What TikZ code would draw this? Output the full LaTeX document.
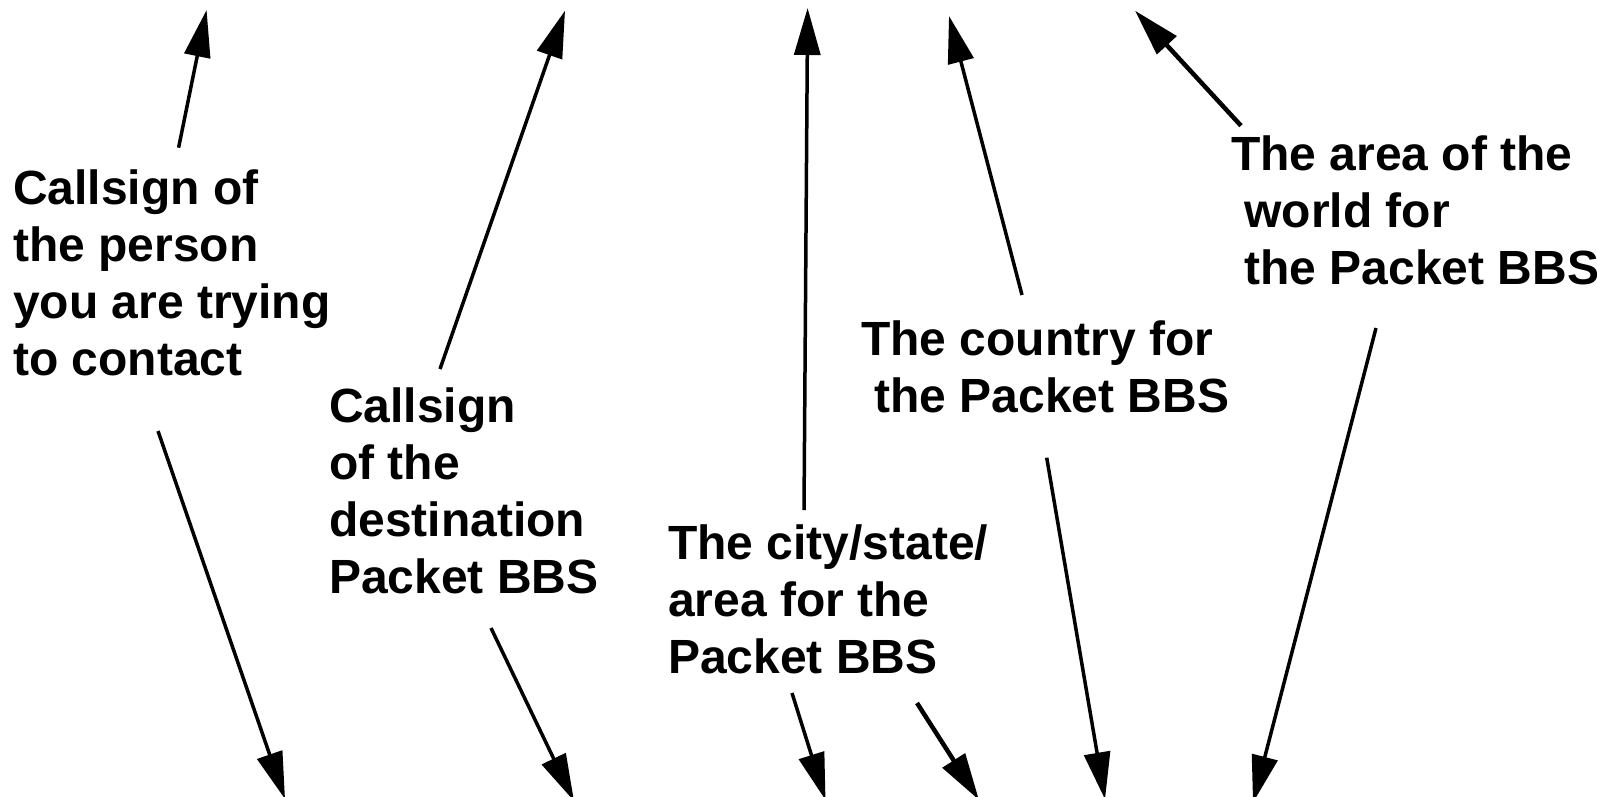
\documentclass[tikz,border=0pt]{standalone}
\usepackage{fontspec}
\setmainfont{Liberation Sans}
\usetikzlibrary{arrows.meta}
\begin{document}
\begin{tikzpicture}[x=1pt,y=-1pt,
  lbl/.style={anchor=base west,align=left,inner sep=0pt,font=\fontsize{48}{57}\selectfont\bfseries},
  arr/.style={-{Triangle[length=47pt,width=26pt]},line width=3.5pt},
  thick arr/.style={arr,line width=4.5pt}]
\useasboundingbox (0,0) rectangle (1597,796);
\clip (0,0) rectangle (1597,796);
% labels (anchored at the baseline of their last line)
\node[lbl] (l1) at (13,375.5) {Callsign of\\the person\\you are trying\\to contact};
\node[lbl] (l2) at (329,593) {Callsign\\of the\\destination\\Packet BBS};
\node[lbl] (l3) at (668,673) {The city/state/\\area for the\\Packet BBS};
\node[lbl] (l4) at (861,412) {The country for\\\ the Packet BBS};
\node[lbl] (l5) at (1231,284) {The area of the\\\ world for\\\ the Packet BBS};
% arrow ends
\coordinate (a1s) at (178.6,147.7); \coordinate (a1e) at (206.6,10);
\coordinate (a2s) at (440,369);     \coordinate (a2e) at (565,10.7);
\coordinate (a3s) at (804,510);     \coordinate (a3e) at (807.6,8);
\coordinate (a4s) at (1022,295);    \coordinate (a4e) at (949,16);
\coordinate (a5s) at (1241,125.7);  \coordinate (a5e) at (1135,10.7);
\coordinate (b1s) at (158,431);     \coordinate (b1e) at (285,799);
\coordinate (b2s) at (491,628);     \coordinate (b2e) at (574,801);
\coordinate (b3s) at (792,693);     \coordinate (b3e) at (825.5,800);
\coordinate (b4s) at (917,703);     \coordinate (b4e) at (979,800);
\coordinate (b5s) at (1046.7,457.7);\coordinate (b5e) at (1105,799.3);
\coordinate (b6s) at (1376,328);    \coordinate (b6e) at (1253,802.5);
% arrows
\draw[arr] (a1s) -- (a1e);
\draw[arr] (a2s) -- (a2e);
\draw[arr] (a3s) -- (a3e);
\draw[arr] (a4s) -- (a4e);
\draw[thick arr] (a5s) -- (a5e);
\draw[arr] (b1s) -- (b1e);
\draw[arr] (b2s) -- (b2e);
\draw[arr] (b3s) -- (b3e);
\draw[thick arr] (b4s) -- (b4e);
\draw[arr] (b5s) -- (b5e);
\draw[arr] (b6s) -- (b6e);
\end{tikzpicture}
\end{document}
